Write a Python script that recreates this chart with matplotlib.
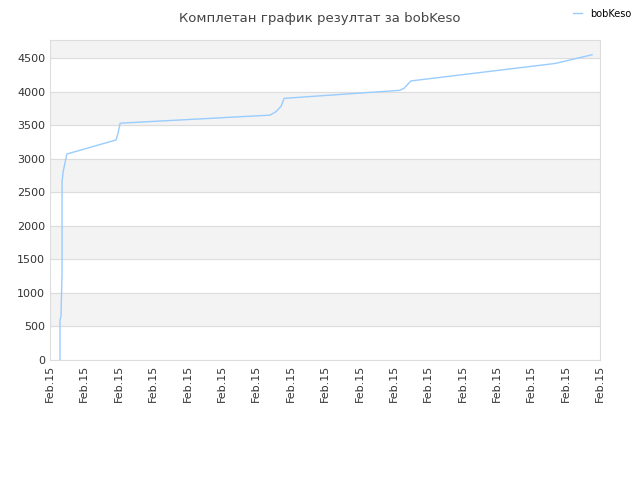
import matplotlib
matplotlib.use("Agg")
import matplotlib.pyplot as plt

# x in tick units (17 ticks, all "Feb.15"), y = result
xs = [0.29, 0.29, 0.32, 0.35, 0.35, 0.38, 0.44, 0.49, 1.92, 1.98, 2.04,
      6.40, 6.57, 6.72, 6.81, 10.18, 10.30, 10.50, 14.69, 15.77]
ys = [0, 600, 650, 1300, 2650, 2800, 2950, 3070, 3280, 3380, 3530,
      3650, 3700, 3780, 3900, 4020, 4050, 4160, 4420, 4550]
tick_labels = ["Feb.15"] * 17

fig = plt.figure(figsize=(6.4, 4.8), dpi=100)
ax = fig.add_axes([50/640, 120/480, 550/640, 320/480])
ymax = 4770
for lo in range(500, 5000, 1000):
    ax.axhspan(lo, min(lo + 500, ymax), color="#f3f3f3", zorder=0)
ax.set_ylim(0, ymax)
ax.set_xlim(0, 16)
ax.set_yticks(range(0, 5000, 500))
ax.set_xticks(range(17))
ax.set_xticklabels(tick_labels, rotation=90)
ax.tick_params(labelsize=8, colors="#333333", length=0)
ax.grid(axis="y", color="#dddddd", lw=0.8)
ax.set_axisbelow(True)
for s in ax.spines.values():
    s.set_color("#dddddd")
ax.plot(xs, ys, color="#99ccff", lw=1, label="bobKeso")
fig.text(0.5, 0.975, "Комплетан график резултат за bobKeso", ha="center", va="top",
         fontsize=9.5, color="#444444")
fig.legend(loc="upper right", bbox_to_anchor=(1.0, 1.0), frameon=False, fontsize=7,
           handlelength=1)
fig.savefig("out.png")
